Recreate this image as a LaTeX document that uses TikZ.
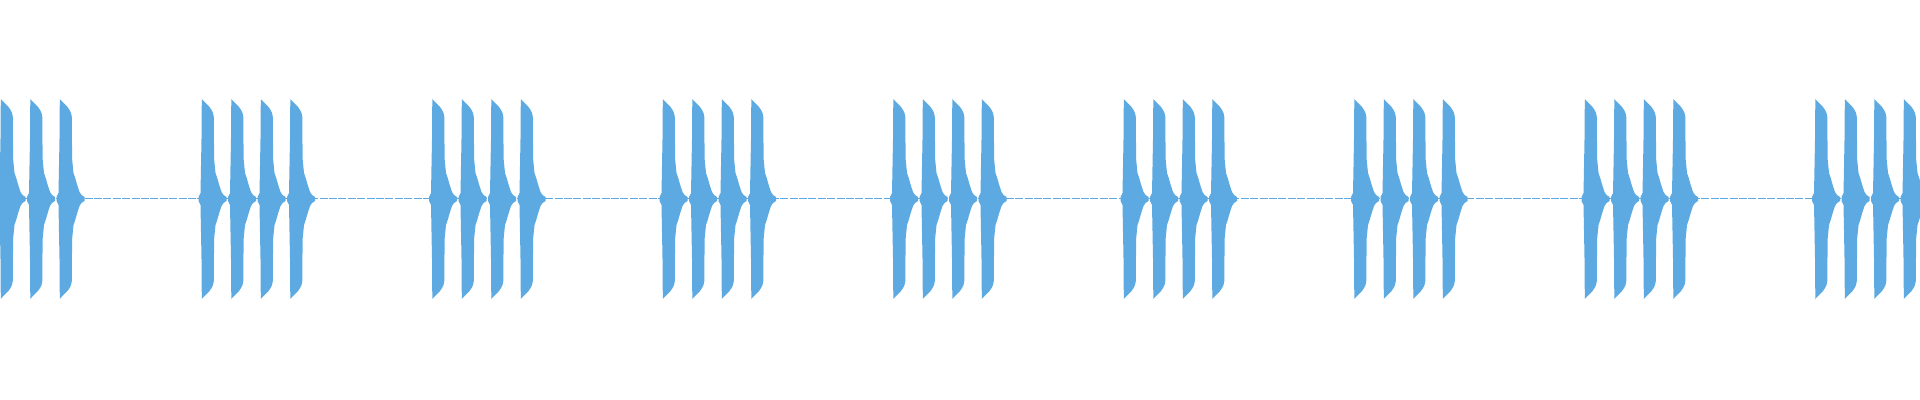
\documentclass[tikz,border=0pt]{standalone}
\definecolor{wave}{RGB}{93,170,226}
\begin{document}
\begin{tikzpicture}[x=0.5pt,y=-0.5pt]
\useasboundingbox (0,0) rectangle (1920,400);
\draw[wave,line width=0.5pt,dash pattern=on 4pt off 0.7pt] (0,199) -- (1920,199);
\foreach \k in {0,...,8}{
  \foreach \j in {0,...,3}{
    \pgfmathsetmacro{\xo}{-29+230.5*\k+29.5*\j}
    \begin{scope}[shift={(\xo,199)}]
      \fill[wave] (-3,-2)--(-1,-6)--(0,-60)--(0.3,-100)--(2,-98)--(4,-96)--(6,-94)--(8,-92)--(10,-89)--(11.5,-86)--(12.3,-82)--(12.6,-40)--(14,-26)--(16,-20)--(18,-13)--(20,-7)--(22,-4)--(25,-2)
      --(25,2)--(22,4)--(20,7)--(18,13)--(16,20)--(14,26)--(12.6,40)--(12.3,82)--(11.5,86)--(10,89)--(8,92)--(6,94)--(4,96)--(2,98)--(0.3,100)--(0,60)--(-1,6)--(-3,2)--cycle;
    \end{scope}
  }
}
\end{tikzpicture}
\end{document}
